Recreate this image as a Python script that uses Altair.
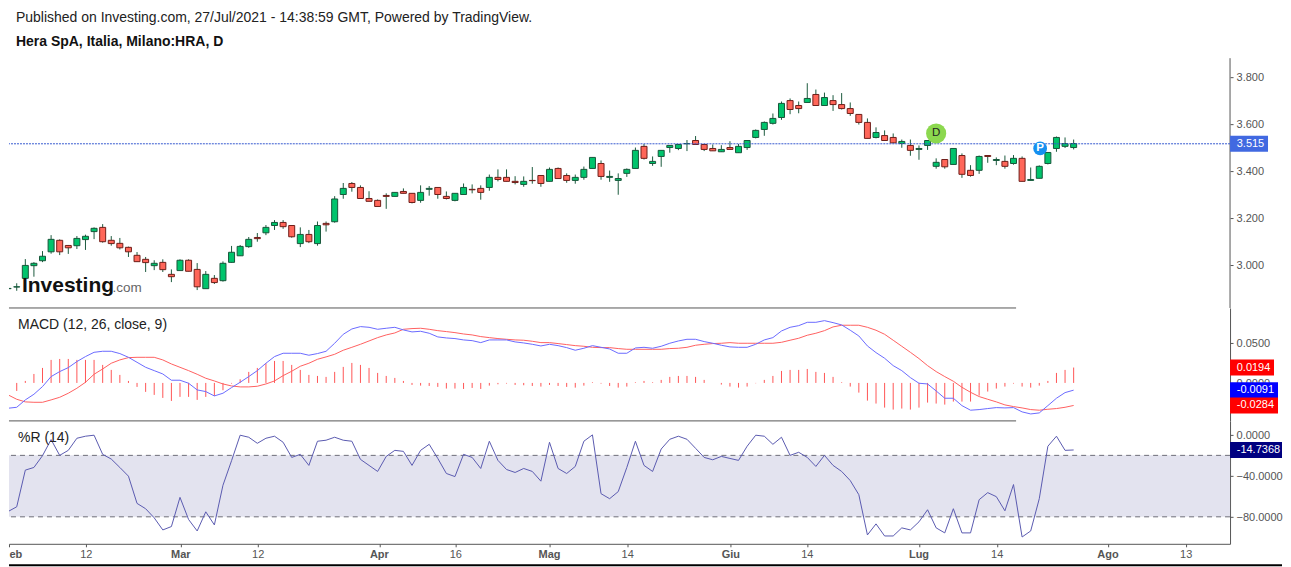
import altair as alt
import pandas as pd

FONT = "Liberation Sans"
AXC = "#555555"

opens = [2.898,2.905,2.942,2.996,3.017,3.055,3.104,3.082,3.081,3.107,
3.141,3.159,3.104,3.091,3.074,3.040,3.023,2.996,3.010,2.959,
2.975,3.019,2.980,2.898,2.942,2.932,3.010,3.038,3.077,3.116,
3.136,3.167,3.180,3.167,3.090,3.129,3.090,3.176,3.183,3.299,
3.346,3.329,3.282,3.274,3.295,3.291,3.312,3.304,3.274,3.321,
3.329,3.291,3.274,3.299,3.321,3.325,3.329,3.372,3.372,3.355,
3.342,3.359,3.380,3.355,3.410,3.380,3.359,3.372,3.410,3.431,
3.372,3.359,3.389,3.410,3.504,3.431,3.461,3.499,3.495,3.515,
3.529,3.512,3.495,3.481,3.499,3.477,3.499,3.542,3.576,3.602,
3.627,3.699,3.678,3.691,3.725,3.678,3.699,3.682,3.665,3.640,
3.606,3.542,3.550,3.542,3.516,3.508,3.491,3.508,3.419,3.448,
3.427,3.465,3.402,3.402,3.465,3.444,3.440,3.431,3.453,3.359,
3.368,3.431,3.495,3.504,3.499]
closes = [2.899,2.906,2.997,3.006,3.036,3.108,3.055,3.072,3.112,3.121,
3.155,3.098,3.090,3.072,3.055,3.013,3.009,3.006,2.979,2.949,
3.019,2.972,2.906,2.959,2.924,3.006,3.053,3.078,3.108,3.111,
3.159,3.180,3.162,3.119,3.129,3.098,3.167,3.170,3.280,3.325,
3.329,3.282,3.270,3.248,3.291,3.308,3.304,3.265,3.308,3.325,
3.299,3.282,3.304,3.329,3.319,3.308,3.372,3.363,3.355,3.350,
3.355,3.358,3.346,3.406,3.367,3.359,3.372,3.406,3.457,3.376,
3.376,3.367,3.406,3.487,3.453,3.440,3.487,3.508,3.512,3.516,
3.512,3.491,3.485,3.491,3.491,3.504,3.529,3.572,3.606,3.623,
3.687,3.661,3.665,3.708,3.678,3.712,3.682,3.665,3.644,3.606,
3.538,3.563,3.529,3.519,3.525,3.487,3.495,3.529,3.436,3.417,
3.495,3.385,3.380,3.461,3.461,3.448,3.419,3.453,3.355,3.363,
3.419,3.478,3.542,3.516,3.516]
highs = [2.900,2.921,3.024,3.011,3.058,3.126,3.108,3.084,3.122,3.128,
3.159,3.173,3.122,3.114,3.077,3.054,3.033,3.019,3.023,2.980,
3.023,3.023,3.007,2.973,2.956,3.014,3.080,3.084,3.118,3.135,
3.169,3.190,3.190,3.167,3.159,3.148,3.184,3.184,3.292,3.348,
3.352,3.338,3.313,3.278,3.304,3.308,3.325,3.304,3.338,3.335,
3.329,3.312,3.304,3.346,3.342,3.338,3.384,3.406,3.406,3.377,
3.376,3.416,3.380,3.414,3.414,3.389,3.384,3.418,3.457,3.444,
3.401,3.389,3.410,3.499,3.514,3.461,3.487,3.509,3.514,3.531,
3.548,3.514,3.512,3.509,3.526,3.514,3.529,3.576,3.610,3.644,
3.695,3.708,3.695,3.773,3.746,3.733,3.722,3.731,3.691,3.640,
3.623,3.585,3.572,3.559,3.533,3.533,3.508,3.529,3.453,3.448,
3.495,3.474,3.424,3.465,3.465,3.457,3.465,3.467,3.461,3.414,
3.423,3.478,3.546,3.542,3.533]
lows = [2.897,2.889,2.935,2.949,3.011,3.047,3.041,3.046,3.067,3.063,
3.109,3.094,3.081,3.065,3.033,3.013,2.969,2.977,2.969,2.926,
2.975,2.972,2.892,2.898,2.918,2.928,3.009,3.038,3.072,3.098,
3.126,3.148,3.153,3.115,3.075,3.092,3.081,3.141,3.179,3.281,
3.311,3.282,3.270,3.248,3.238,3.291,3.304,3.261,3.264,3.294,
3.281,3.278,3.270,3.299,3.304,3.277,3.315,3.355,3.355,3.342,
3.332,3.345,3.332,3.355,3.367,3.349,3.345,3.362,3.410,3.362,
3.353,3.298,3.374,3.410,3.448,3.421,3.417,3.477,3.488,3.484,
3.511,3.484,3.485,3.480,3.491,3.477,3.489,3.538,3.549,3.597,
3.617,3.641,3.645,3.691,3.678,3.678,3.655,3.661,3.634,3.597,
3.538,3.538,3.529,3.519,3.498,3.464,3.447,3.489,3.409,3.409,
3.427,3.370,3.375,3.387,3.434,3.424,3.409,3.426,3.355,3.359,
3.368,3.427,3.481,3.497,3.491]

macd = [-.0319,-.0307,-.0214,-.0143,-.0046,.0080,.0143,.0193,.0269,.0332,
.0386,.0399,.0399,.0370,.0323,.0260,.0197,.0155,.0113,.0034,
.0034,-.0004,-.0088,-.0109,-.0164,-.0130,-.0059,.0008,.0080,.0155,
.0248,.0332,.0374,.0374,.0374,.0349,.0370,.0399,.0500,.0613,
.0680,.0710,.0701,.0676,.0689,.0701,.0668,.0643,.0651,.0626,
.0580,.0567,.0559,.0542,.0533,.0508,.0542,.0542,.0542,.0517,
.0504,.0487,.0466,.0487,.0470,.0445,.0412,.0437,.0470,.0449,
.0428,.0374,.0374,.0441,.0449,.0437,.0462,.0500,.0529,.0550,
.0550,.0521,.0500,.0475,.0454,.0449,.0449,.0487,.0542,.0571,
.0655,.0701,.0722,.0764,.0764,.0785,.0760,.0731,.0664,.0592,
.0466,.0382,.0311,.0218,.0155,.0067,-.0004,-.0013,-.0101,-.0193,
-.0193,-.0286,-.0344,-.0336,-.0323,-.0311,-.0315,-.0311,-.0365,-.0391,
-.0378,-.0286,-.0193,-.0122,-.0091]
signal = [-.0151,-.0206,-.0239,-.0244,-.0244,-.0214,-.0181,-.0130,-.0067,.0008,
.0109,.0176,.0248,.0290,.0319,.0323,.0323,.0323,.0290,.0239,
.0197,.0155,.0109,.0059,.0025,-.0013,-.0038,-.0050,-.0050,-.0042,
-.0013,.0025,.0092,.0147,.0210,.0248,.0298,.0328,.0361,.0412,
.0449,.0487,.0529,.0571,.0605,.0630,.0676,.0685,.0689,.0676,
.0659,.0647,.0634,.0617,.0605,.0584,.0571,.0559,.0550,.0542,
.0538,.0525,.0508,.0508,.0496,.0483,.0470,.0462,.0449,.0445,
.0445,.0433,.0424,.0424,.0424,.0424,.0424,.0433,.0437,.0449,
.0475,.0487,.0496,.0500,.0508,.0500,.0500,.0500,.0500,.0500,
.0512,.0538,.0563,.0601,.0626,.0659,.0706,.0727,.0727,.0727,
.0701,.0664,.0613,.0538,.0462,.0386,.0307,.0218,.0143,.0080,
.0021,-.0055,-.0118,-.0172,-.0206,-.0239,-.0277,-.0298,-.0315,-.0336,
-.0344,-.0332,-.0323,-.0307,-.0284]
hist = [-.0168,-.0101,.0025,.0113,.0189,.0290,.0302,.0302,.0290,.0290,
.0290,.0227,.0164,.0101,.0025,-.0050,-.0113,-.0151,-.0189,-.0227,
-.0176,-.0176,-.0214,-.0176,-.0164,-.0092,-.0008,.0046,.0139,.0189,
.0248,.0277,.0277,.0227,.0164,.0101,.0088,.0076,.0139,.0202,
.0252,.0227,.0189,.0126,.0088,.0063,.0025,-.0025,-.0034,-.0038,
-.0050,-.0071,-.0071,-.0076,-.0063,-.0076,-.0034,-.0017,-.0008,-.0025,
-.0029,-.0038,-.0046,-.0025,-.0038,-.0050,-.0059,-.0034,.0008,-.0008,
-.0038,-.0059,-.0046,.0008,.0025,.0008,.0038,.0076,.0088,.0088,
.0076,.0038,.0000,-.0021,-.0046,-.0059,-.0046,-.0004,.0038,.0088,
.0151,.0164,.0164,.0176,.0139,.0126,.0076,.0008,-.0046,-.0122,
-.0223,-.0260,-.0311,-.0336,-.0323,-.0336,-.0311,-.0248,-.0260,-.0273,
-.0235,-.0235,-.0235,-.0160,-.0109,-.0071,-.0046,-.0008,-.0046,-.0059,
-.0034,.0025,.0126,.0164,.0194]
willr = [-74.8,-70.2,-34.4,-31.8,-20.3,-4.6,-20.0,-15.1,-3.3,-1.3,
-0.3,-19.0,-23.6,-31.8,-40.3,-66.9,-72.1,-81.0,-92.8,-89.5,
-61.0,-82.6,-93.8,-75.1,-87.9,-49.2,-25.2,-0.3,-2.3,-8.2,
-3.3,-1.3,-7.2,-22.0,-19.0,-29.8,-6.2,-5.2,-2.3,-5.2,
-6.2,-23.9,-29.8,-35.7,-21.0,-15.1,-16.1,-29.8,-15.1,-9.2,
-23.0,-37.7,-40.7,-19.0,-22.0,-32.8,-6.2,-24.9,-33.8,-36.7,
-32.8,-35.7,-45.2,-7.2,-32.8,-37.7,-30.8,-6.2,0.0,-57.4,
-62.3,-55.4,-31.8,-6.2,-29.8,-35.7,-13.8,-4.3,-1.3,-4.3,
-13.1,-22.0,-24.3,-21.0,-23.0,-24.9,-11.1,-0.3,-1.3,-9.2,
-2.3,-20.0,-17.0,-22.0,-30.8,-20.0,-29.8,-35.7,-44.6,-58.4,
-97.7,-86.9,-98.7,-98.7,-90.8,-92.8,-84.9,-73.1,-90.8,-95.7,
-72.1,-95.7,-95.7,-63.3,-56.4,-60.3,-74.1,-48.5,-99.7,-93.8,
-62.3,-11.1,-1.3,-15.1,-14.7368]

tick_x = [9.1, 29.1, 52.1, 72.1, 93.0, 115.1, 137.1]
tick_t = ["12", "12", "16", "14", "14", "14", "13"]
mon_x = [20.1, 43.2, 63.0, 84.1, 106.0, 128.0]
mon_t = ["Mar", "Apr", "Mag", "Giu", "Lug", "Ago"]
price_ticks = [3.0, 3.2, 3.4, 3.6, 3.8]
macd_ticks = [0.0, 0.05]
willr_ticks = [0, -40, -80]

X_DOMAIN = [0.1, 142.2]
W = 1222
RIGHT = 1274

df = pd.DataFrame({"i": range(len(opens)), "o": opens, "c": closes, "h": highs, "l": lows,
                   "macd": macd, "sig": signal, "hist": hist, "r": willr})
df["zero"] = 0.0
df["up"] = df.c >= df.o
up = df[df.up]
dn = df[~df.up]

xs = alt.Scale(domain=X_DOMAIN, nice=False, zero=False, padding=0)
x_none = alt.Axis(labels=False, ticks=False, domain=False, grid=False)
x_bottom = alt.Axis(values=[0.1] + tick_x + mon_x, labels=False, tickSize=3, tickColor=AXC,
                    domainColor=AXC, grid=False)


def y_axis(values, fmt, domain, offset):
    return alt.Axis(orient="right", values=values, format=fmt, domain=domain, domainColor=AXC, grid=False,
                    tickSize=3, tickColor=AXC, labelColor=AXC, labelFont=FONT, labelFontSize=11,
                    labelPadding=3, labelOverlap=False, labelOffset=offset, title=None)


class Pane:
    def __init__(self, scale, axis, x_axis):
        self.scale, self.axis, self.x_axis = scale, axis, x_axis

    def x(self, f="i:Q"):
        return alt.X(f, scale=xs, axis=self.x_axis, title=None)

    def y(self, f="v:Q"):
        return alt.Y(f, scale=self.scale, axis=self.axis, title=None)

    def tag(self, value, text, color, x_right):
        d = pd.DataFrame({"v": [value], "t": [text]})
        rect = alt.Chart(d).mark_rect(color=color, height=16).encode(
            x=alt.value(W), x2=alt.value(x_right), y=self.y())
        txt = alt.Chart(d).mark_text(color="white", font=FONT, fontSize=11, align="left", baseline="middle").encode(
            x=alt.value(W + 6.7), y=self.y(), text="t:N")
        return rect + txt

    def sep(self, bottom):
        d = pd.DataFrame({"a": [0.1], "b": [117.3], "v": [bottom]})
        return alt.Chart(d).mark_rule(color=AXC, strokeWidth=1).encode(
            x=self.x("a:Q"), x2="b:Q", y=self.y())


def static_text(text, x, y, **kw):
    return alt.Chart(pd.DataFrame({"t": [text]})).mark_text(font=FONT, align="left", baseline="middle", **kw).encode(
        x=alt.value(x), y=alt.value(y), text="t:N")


# ---- price panel: page y 8 -> 308
H1 = 300
p_top = 3.8 + (76.7 - 8) / 235
p_bot = 3.8 - (308 - 76.7) / 235
P1 = Pane(alt.Scale(domain=[p_bot, p_top], nice=False, zero=False), y_axis(price_ticks, ".3f", False, 1), x_none)

axis_line = alt.Chart(pd.DataFrame({"v": [3.8796], "b": [p_bot]})).mark_rule(color=AXC, strokeWidth=1).encode(
    x=alt.value(W), y=P1.y(), y2="b:Q")


def candle(d, fill, stroke):
    return alt.Chart(d).mark_bar(size=6, fill=fill, stroke=stroke, strokeWidth=1, clip=True, orient="vertical").encode(
        x=P1.x(), y=P1.y("o:Q"), y2="c:Q")


wicks = alt.Chart(df).mark_rule(color="#1C5A3E", strokeWidth=1, clip=True).encode(x=P1.x(), y=P1.y("l:Q"), y2="h:Q")
last_line = alt.Chart(pd.DataFrame({"v": [3.515]})).mark_rule(color="#3558CF", strokeWidth=1, strokeDash=[2, 1]).encode(
    y=P1.y())


def marker(i, price, fill, size, text, tcolor, weight):
    d = pd.DataFrame({"i": [i], "v": [price], "t": [text]})
    dot = alt.Chart(d).mark_circle(size=size, fill=fill, opacity=1).encode(x=P1.x(), y=P1.y())
    txt = alt.Chart(d).mark_text(color=tcolor, font=FONT, fontSize=11.5, fontWeight=weight, baseline="middle").encode(
        x=P1.x(), y=P1.y(), text="t:N")
    return dot + txt


panel1 = alt.layer(
    axis_line, wicks, candle(up, "#00C46C", "#17563A"), candle(dn, "#FF6659", "#6E1E19"),
    last_line,
    marker(108.0, 3.559, "#8CD84F", 405, "D", "#222222", "normal"),
    marker(120.1, 3.495, "#1590F0", 190, "P", "white", "bold"),
    static_text("Published on Investing.com, 27/Jul/2021 - 14:38:59 GMT, Powered by TradingView.", 7, 10, fontSize=14, color="#222222"),
    static_text("Hera SpA, Italia, Milano:HRA, D", 7, 34, fontSize=14, fontWeight="bold", color="#111111"),
    alt.Chart(pd.DataFrame({"t": ["Investing"]})).mark_text(font=FONT, fontSize=21, fontWeight="bold", color="#111111", align="left", baseline="alphabetic").encode(
        x=alt.value(13), y=alt.value(284), text="t:N"),
    alt.Chart(pd.DataFrame({"t": [".com"]})).mark_text(font=FONT, fontSize=13.5, color="#666666", align="left", baseline="alphabetic").encode(
        x=alt.value(103.5), y=alt.value(284), text="t:N"),
    P1.tag(3.515, "3.515", "#4169E1", 1260),
    P1.sep(p_bot),
).properties(width=W, height=H1)

# ---- MACD panel: page y 308 -> 421
H2 = 113
m_bot = (383 - 421) / 794
P2 = Pane(alt.Scale(domain=[m_bot, (383 - 308) / 794], nice=False, zero=False), y_axis(macd_ticks, ".4f", True, 0.5), x_none)
panel2 = alt.layer(
    alt.Chart(df).mark_rule(color="#FF5555", strokeWidth=1, clip=True).encode(x=P2.x(), y=P2.y("zero:Q"), y2="hist:Q"),
    alt.Chart(df).mark_line(color="#FF6060", strokeWidth=1, clip=True).encode(x=P2.x(), y=P2.y("sig:Q")),
    alt.Chart(df).mark_line(color="#6A6AFF", strokeWidth=1, clip=True).encode(x=P2.x(), y=P2.y("macd:Q")),
    static_text("MACD (12, 26, close, 9)", 9, 17, fontSize=14, color="#222222"),
    P2.tag(0.0194, "0.0194", "#FF0000", 1266),
    P2.tag(-0.0091, "-0.0091", "#0000FF", 1270),
    P2.tag(-0.0284, "-0.0284", "#FF0000", 1270),
    P2.sep(m_bot),
).properties(width=W, height=H2)

# ---- %R panel: page y 421 -> 544
H3 = 123
P3 = Pane(alt.Scale(domain=[-(544 - 435) / 1.025, (435 - 421) / 1.025], nice=False, zero=False),
          y_axis(willr_ticks, ".4f", True, 1), x_bottom)
band = alt.Chart(pd.DataFrame({"v": [-20.0], "b": [-80.0]})).mark_rect(color="#E3E3EF").encode(y=P3.y(), y2="b:Q")
dashes = alt.Chart(pd.DataFrame({"v": [-20.0, -80.0]})).mark_rule(color="#6E6E78", strokeWidth=1, strokeDash=[5, 4]).encode(y=P3.y())
r_line = alt.Chart(df).mark_line(color="#5A5AB0", strokeWidth=1, clip=True).encode(x=P3.x(), y=P3.y("r:Q"))
nums = alt.Chart(pd.DataFrame({"i": tick_x, "t": tick_t})).mark_text(
    font=FONT, fontSize=11, color=AXC, baseline="middle").encode(x=P3.x(), y=alt.value(H3 + 11), text="t:N")
mons = alt.Chart(pd.DataFrame({"i": mon_x, "t": mon_t})).mark_text(
    font=FONT, fontSize=11, fontWeight="bold", color=AXC, baseline="middle").encode(x=P3.x(), y=alt.value(H3 + 11), text="t:N")
feb = static_text("eb", 0.5, H3 + 11, fontSize=11, fontWeight="bold", color=AXC)
footer = alt.Chart(pd.DataFrame({"k": [1]})).mark_rule(color="black", strokeWidth=2).encode(
    x=alt.value(0), x2=alt.value(RIGHT), y=alt.value(144.5))

panel3 = alt.layer(
    band, dashes, r_line, nums, mons, feb,
    static_text("%R (14)", 9, 17, fontSize=14, color="#222222"),
    P3.tag(-14.7368, "-14.7368", "#000080", RIGHT),
    footer,
).properties(width=W, height=H3)

chart = alt.vconcat(panel1, panel2, panel3, spacing=0, bounds="flush").properties(
    padding=0, background="white"
).configure_view(strokeWidth=0)

chart.save("out.html", embed_options={"renderer": "svg", "actions": False})
